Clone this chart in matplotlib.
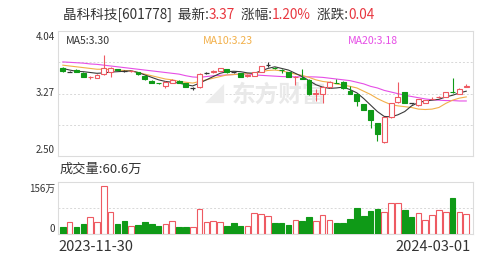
import matplotlib
matplotlib.use("Agg")
import matplotlib.pyplot as plt
import numpy as np

plt.rcParams['font.family'] = ['Noto Sans CJK SC', 'DejaVu Sans']

# ---- data ----
opens = [3.59, 3.54, 3.565, 3.525, 3.47, 3.465, 3.51, 3.54, 3.57, 3.545,
         3.545, 3.535, 3.49, 3.43, 3.40, 3.37, 3.40, 3.43, 3.40, 3.335,
         3.35, 3.52, 3.53, 3.55, 3.57, 3.53, 3.52, 3.49, 3.49, 3.54,
         3.62, 3.585, 3.565, 3.53, 3.475, 3.46, 3.44, 3.27, 3.27, 3.35,
         3.405, 3.415, 3.305, 3.265, 3.14, 3.065, 2.91, 2.68, 2.98, 3.17,
         3.285, 3.15, 3.13, 3.155, 3.205, 3.225, 3.23, 3.29, 3.265, 3.355]
closes = [3.55, 3.54, 3.54, 3.48, 3.475, 3.505, 3.59, 3.59, 3.565, 3.545,
          3.55, 3.51, 3.445, 3.40, 3.395, 3.41, 3.44, 3.40, 3.355, 3.335,
          3.51, 3.52, 3.55, 3.58, 3.53, 3.53, 3.48, 3.495, 3.53, 3.61,
          3.62, 3.58, 3.56, 3.475, 3.48, 3.455, 3.27, 3.275, 3.355, 3.415,
          3.40, 3.335, 3.27, 3.18, 3.075, 2.945, 2.77, 2.98, 3.15, 3.23,
          3.16, 3.15, 3.20, 3.19, 3.21, 3.23, 3.285, 3.285, 3.33, 3.37]
highs = [3.60, 3.55, 3.57, 3.53, 3.49, 3.51, 3.745, 3.60, 3.575, 3.555,
         3.56, 3.54, 3.495, 3.435, 3.405, 3.42, 3.445, 3.435, 3.405, 3.35,
         3.52, 3.53, 3.555, 3.585, 3.575, 3.54, 3.525, 3.51, 3.535, 3.615,
         3.66, 3.595, 3.57, 3.535, 3.49, 3.57, 3.445, 3.33, 3.36, 3.42,
         3.45, 3.42, 3.36, 3.27, 3.145, 3.07, 2.915, 2.985, 3.155, 3.415,
         3.29, 3.16, 3.205, 3.195, 3.225, 3.245, 3.29, 3.46, 3.335, 3.39]
lows = [3.54, 3.53, 3.535, 3.475, 3.45, 3.46, 3.50, 3.475, 3.555, 3.535,
        3.535, 3.505, 3.44, 3.395, 3.39, 3.335, 3.395, 3.395, 3.35, 3.315,
        3.34, 3.51, 3.525, 3.545, 3.525, 3.52, 3.475, 3.47, 3.485, 3.535,
        3.60, 3.57, 3.52, 3.47, 3.375, 3.45, 3.25, 3.18, 3.15, 3.345,
        3.395, 3.33, 3.265, 3.12, 3.07, 2.845, 2.69, 2.66, 2.975, 3.15,
        3.155, 3.14, 3.12, 3.15, 3.20, 3.22, 3.225, 3.28, 3.26, 3.35]

ma5 = [3.58, 3.56, 3.545, 3.54, 3.53, 3.52, 3.525, 3.535, 3.54, 3.545,
       3.55, 3.53, 3.50, 3.47, 3.44, 3.42, 3.41, 3.40, 3.38, 3.365,
       3.40, 3.44, 3.48, 3.52, 3.54, 3.545, 3.54, 3.525, 3.52, 3.55,
       3.58, 3.60, 3.58, 3.56, 3.52, 3.48, 3.43, 3.38, 3.35, 3.335,
       3.34, 3.35, 3.32, 3.28, 3.21, 3.13, 3.05, 2.99, 2.985, 3.01,
       3.05, 3.12, 3.16, 3.18, 3.19, 3.20, 3.23, 3.25, 3.28, 3.30]
ma10 = [3.62, 3.61, 3.60, 3.59, 3.58, 3.57, 3.57, 3.565, 3.56, 3.555,
        3.55, 3.53, 3.51, 3.49, 3.47, 3.45, 3.44, 3.42, 3.41, 3.40,
        3.42, 3.44, 3.46, 3.48, 3.50, 3.505, 3.51, 3.515, 3.52, 3.54,
        3.555, 3.56, 3.55, 3.53, 3.51, 3.495, 3.47, 3.44, 3.42, 3.41,
        3.39, 3.375, 3.36, 3.34, 3.30, 3.26, 3.21, 3.17, 3.135, 3.12,
        3.11, 3.10, 3.08, 3.075, 3.08, 3.10, 3.15, 3.19, 3.215, 3.23]
ma20 = [3.66, 3.655, 3.65, 3.645, 3.635, 3.63, 3.62, 3.61, 3.60, 3.59,
        3.58, 3.57, 3.56, 3.55, 3.54, 3.53, 3.52, 3.51, 3.49, 3.475,
        3.47, 3.48, 3.49, 3.495, 3.50, 3.505, 3.51, 3.515, 3.50, 3.495,
        3.49, 3.485, 3.48, 3.478, 3.477, 3.477, 3.477, 3.475, 3.47, 3.46,
        3.45, 3.44, 3.43, 3.41, 3.39, 3.36, 3.34, 3.31, 3.29, 3.27,
        3.25, 3.235, 3.22, 3.205, 3.195, 3.19, 3.185, 3.185, 3.18, 3.18]

volume = [22, 35, 22, 30, 50, 35, 145, 66, 30, 40,
          25, 28, 35, 30, 25, 30, 40, 20, 20, 20,
          76, 37, 40, 35, 23, 33, 23, 25, 63, 60,
          55, 32, 34, 28, 42, 39, 50, 40, 57, 42,
          32, 32, 45, 78, 55, 68, 75, 65, 95, 93,
          73, 50, 62, 43, 57, 72, 65, 108, 66, 60.6]
vol_up = [0, 1, 0, 0, 1, 1, 1, 1, 0, 0,
          1, 0, 0, 0, 0, 1, 1, 0, 0, 1,
          1, 1, 1, 1, 0, 0, 0, 1, 1, 1,
          1, 0, 0, 0, 1, 0, 0, 1, 1, 1,
          0, 0, 0, 0, 0, 0, 0, 1, 1, 1,
          0, 0, 1, 1, 1, 1, 1, 0, 1, 1]

price_ticks = [2.50, 3.27, 4.04]
vol_max = 156
start_date = "2023-11-30"
end_date = "2024-03-01"

RED = "#ee5a62"
GREEN = "#0f9a17"
DARK = "#333333"
GRID = "#d8d8d8"
BORDER = "#dcdcdc"

W, H = 499, 261
fig = plt.figure(figsize=(W / 100, H / 100), dpi=100)

def fx(px):
    return px / W

def fy(py):
    return 1 - py / H

left, right = 58.3, 472.7
ax = fig.add_axes([fx(left), fy(156.3), fx(right - left), (156.3 - 31) / H])
axv = fig.add_axes([fx(left), fy(234.0), fx(right - left), (234.0 - 182.3) / H])

n = len(opens)
x = np.arange(n)
for a in (ax, axv):
    a.set_xlim(-0.66, n - 1 + 0.94)
    a.set_xticks([])
    a.set_yticks([])
    for s in a.spines.values():
        s.set_color(BORDER)
        s.set_linewidth(0.8)

ax.set_ylim(price_ticks[0], price_ticks[-1])
axv.set_ylim(0, vol_max)

# gridlines
for v in np.linspace(price_ticks[0], price_ticks[-1], 5)[1:-1]:
    ax.axhline(v, color=GRID, lw=0.7, ls=(0, (2, 2)), zorder=0)
axv.axhline(vol_max / 2, color=GRID, lw=0.7, ls=(0, (2, 2)), zorder=0)

# watermark (behind the marks)
ax.text(fx(232), fy(95), "东方财富", color="#e9e9e9", fontsize=17,
        fontweight="bold", va="center", ha="left", zorder=0.5,
        transform=fig.transFigure)
ax.text(fx(205), fy(93), "◢", color="#ececec", fontsize=18,
        va="center", ha="left", zorder=0.5, family=['DejaVu Sans'],
        transform=fig.transFigure)

# MA lines
ax.plot(x, ma20, color="#e64ee6", lw=0.8, zorder=2)
ax.plot(x, ma10, color="#f2b04a", lw=0.8, zorder=2)
ax.plot(x, ma5, color="#3a3a3a", lw=0.8, zorder=2)

# candles
bw = 0.72
for i in range(n):
    o, c, h, l = opens[i], closes[i], highs[i], lows[i]
    if c > o:
        col = RED
    elif c < o:
        col = GREEN
    else:
        col = DARK
    lo_b, hi_b = min(o, c), max(o, c)
    ax.vlines(i, hi_b, h, color=col, lw=0.8, zorder=3)
    ax.vlines(i, l, lo_b, color=col, lw=0.8, zorder=3)
    if c > o:
        ax.bar(i, hi_b - lo_b, bottom=lo_b, width=bw, facecolor="white",
               edgecolor=col, linewidth=0.8, zorder=4)
    elif c < o:
        ax.bar(i, hi_b - lo_b, bottom=lo_b, width=bw, facecolor=col,
               edgecolor=col, linewidth=0.8, zorder=4)
    else:
        ax.hlines(o, i - bw / 2, i + bw / 2, color=col, lw=0.9, zorder=4)

# volume
vw = 0.82
for i in range(n):
    if vol_up[i]:
        axv.bar(i, volume[i], width=vw, facecolor="white", edgecolor=RED,
                linewidth=0.8, zorder=3)
    else:
        axv.bar(i, volume[i], width=vw, facecolor=GREEN, edgecolor=GREEN,
                linewidth=0.8, zorder=3)

# texts
tc = "#333333"
rc = "#e8363f"
fs_title = 9.8
parts = [("晶科科技[601778]  最新:", tc), ("3.37", rc), ("  涨幅:", tc),
         ("1.20%", rc), ("  涨跌:", tc), ("0.04", rc)]
fig.canvas.draw()
renderer = fig.canvas.get_renderer()
xpos = 63
for s, col in parts:
    tt = fig.text(fx(xpos), fy(15), s, color=col, fontsize=fs_title,
                  va="center", ha="left")
    bb = tt.get_window_extent(renderer=renderer)
    xpos += bb.width

fig.text(fx(66), fy(41), "MA5:3.30", color=tc, fontsize=7.6, va="center")
fig.text(fx(203), fy(41), "MA10:3.23", color="#f2b04a", fontsize=7.6, va="center")
fig.text(fx(348), fy(41), "MA20:3.18", color="#e64ee6", fontsize=7.6, va="center")

fig.text(fx(55), fy(31.5), f"{price_ticks[2]:.2f}", color=tc, fontsize=7,
         ha="right", va="top")
fig.text(fx(55), fy(93.5), f"{price_ticks[1]:.2f}", color=tc, fontsize=7,
         ha="right", va="center")
fig.text(fx(55), fy(155), f"{price_ticks[0]:.2f}", color=tc, fontsize=7,
         ha="right", va="bottom")

fig.text(fx(60), fy(169.5), "成交量:60.6万", color=tc, fontsize=9.5, va="center")
fig.text(fx(55), fy(189), f"{vol_max}万", color=tc, fontsize=7, ha="right",
         va="center")
fig.text(fx(55), fy(229), "0", color=tc, fontsize=7, ha="right", va="center")

fig.text(fx(58), fy(247), start_date, color=tc, fontsize=10.5, ha="left",
         va="center")
fig.text(fx(471), fy(247), end_date, color=tc, fontsize=10.5, ha="right",
         va="center")

fig.savefig("out.png", dpi=100)
